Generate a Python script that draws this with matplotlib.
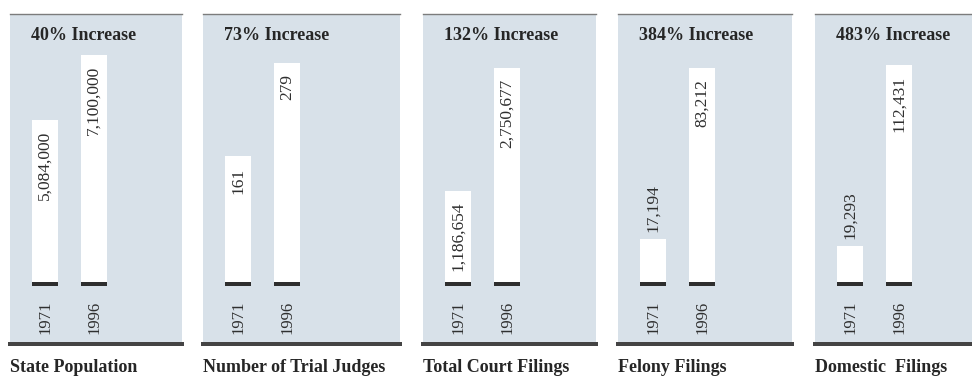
import matplotlib
matplotlib.use('Agg')
import matplotlib.pyplot as plt

# figures for each measure, 1971 vs 1996
categories = ['State Population', 'Number of Trial Judges', 'Total Court Filings',
              'Felony Filings', 'Domestic  Filings']
years = ['1971', '1996']
values_1971 = [5084000, 161, 1186654, 17194, 19293]
values_1996 = [7100000, 279, 2750677, 83212, 112431]

# layout in pixels
W, H = 972, 379
panel_left = [10, 203, 423, 618, 815]
panel_right = [182, 400, 596, 792, 972]
panel_top, panel_bottom = 14, 344
base_y = 284
tall_px = [229, 221, 216, 216, 219]   # drawn height of the taller bar
bar_x = [35, 84]
bar_w = 26
PT = 0.72  # points per pixel at 100 dpi

bg = '#d8e1e9'
ink = '#2e2e2e'

plt.rcParams['font.family'] = ['Liberation Serif', 'DejaVu Serif']

fig = plt.figure(figsize=(W / 100, H / 100), dpi=100)

for i, name in enumerate(categories):
    left, right = panel_left[i], panel_right[i]
    ax = fig.add_axes([left / W, 1 - panel_bottom / H,
                       (right - left) / W, (panel_bottom - panel_top) / H])
    ax.set_facecolor(bg)
    vals = [values_1971[i], values_1996[i]]
    per_px = max(vals) / tall_px[i]
    ax.set_xlim(0, right - left)
    ax.set_ylim(-(panel_bottom - base_y) * per_px, (base_y - panel_top) * per_px)

    ax.bar(bar_x, vals, width=bar_w, color='white', zorder=2)
    ax.hlines([0, 0], [x - bar_w / 2 for x in bar_x], [x + bar_w / 2 for x in bar_x],
              color=ink, linewidth=4 * PT, zorder=3)

    for x, v, yr in zip(bar_x, vals, years):
        label = f'{v:,}'
        # short bars get their value above the bar instead of inside
        h_px = v / per_px
        if h_px > len(label) * 6 + 20:
            ax.annotate(label, (x, v), xytext=(0, -11 * PT), textcoords='offset points',
                        rotation=90, ha='center', va='top', fontsize=12.5, color=ink, zorder=4)
        else:
            ax.annotate(label, (x, v), xytext=(0, 7 * PT), textcoords='offset points',
                        rotation=90, ha='center', va='bottom', fontsize=12.5, color=ink, zorder=4)
        ax.annotate(yr, (x, 0), xytext=(0, -17 * PT), textcoords='offset points',
                    rotation=90, ha='center', va='top', fontsize=12, color=ink)

    ax.set_xticks([])
    ax.set_yticks([])
    ax.spines['left'].set_visible(False)
    ax.spines['right'].set_visible(False)
    ax.spines['top'].set_color('#7c7c7c')
    ax.spines['top'].set_linewidth(1.0)
    ax.spines['bottom'].set_color('#444444')
    ax.spines['bottom'].set_linewidth(4 * PT)

    pct = round((vals[1] / vals[0] - 1) * 100)
    fig.text((left + 21) / W, 1 - 35 / H, f'{pct}% Increase', fontsize=13,
             fontweight='bold', color='#262626', va='center', ha='left')
    fig.text(left / W, 1 - 367 / H, name, fontsize=13, fontweight='bold',
             color='#262626', va='center', ha='left')

fig.savefig('out.png', dpi=100, facecolor='white')
